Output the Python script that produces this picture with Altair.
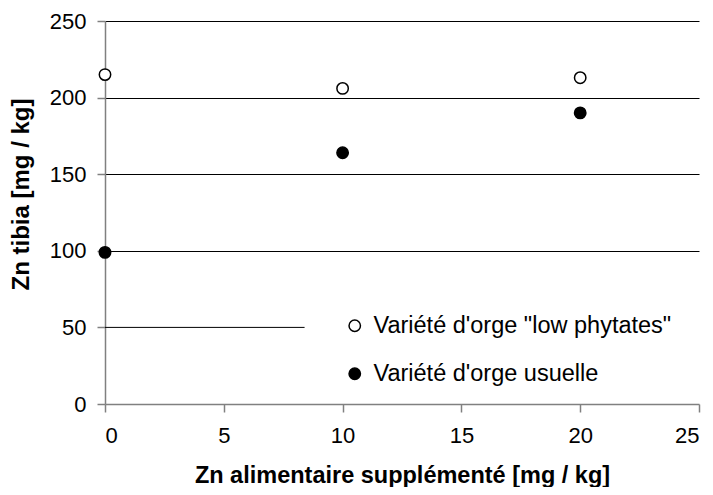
import altair as alt
import pandas as pd

# Data
zn_added = [0, 10, 20]
low_phytates = [215, 206, 213]
usuelle = [99, 164, 190]
series_names = ['Variété d\'orge "low phytates"', "Variété d'orge usuelle"]

x_ticks = [0, 5, 10, 15, 20, 25]
y_ticks = [0, 50, 100, 150, 200, 250]

# short gridline at 50 that stops where the legend box starts
stub_y = [50]
stub_x_start = [0]
stub_x_end = [8.4]

rows = []
for x, v in zip(zn_added, low_phytates):
    rows.append({"x": x, "y": v, "serie": series_names[0]})
for x, v in zip(zn_added, usuelle):
    rows.append({"x": x, "y": v, "serie": series_names[1]})
df = pd.DataFrame(rows)
stub = pd.DataFrame({"y": stub_y, "x": stub_x_start, "x2": stub_x_end})

FONT = "Liberation Sans"

x_scale = alt.Scale(domain=[0, 25], nice=False, zero=False)
y_scale = alt.Scale(domain=[0, 250], nice=False)

x_axis = alt.Axis(
    values=x_ticks, grid=False, title="Zn alimentaire supplémenté [mg / kg]",
    domainColor="#808080", domainWidth=1.5, tickColor="#808080", tickWidth=1.5,
    tickSize=8, labelFontSize=22, labelPadding=13, labelColor="black",
    titleFontSize=23.5, titleFontWeight="bold", titleY=78,
    titleBaseline="alphabetic", labelFont=FONT, titleFont=FONT,
)
y_axis = alt.Axis(
    values=y_ticks, grid=True, gridColor="#000000", gridWidth=1,
    gridOpacity=alt.condition("datum.value <= 50", alt.value(0), alt.value(1)),
    title="Zn tibia [mg / kg]",
    domainColor="#808080", domainWidth=1.5, tickColor="#808080", tickWidth=1.5,
    tickSize=8, labelFontSize=22, labelPadding=11, labelColor="black",
    titleFontSize=24, titleFontWeight="bold", titleX=-72, titleY=173,
    labelFont=FONT, titleFont=FONT,
)

rule = alt.Chart(stub).mark_rule(color="#000000", strokeWidth=1).encode(
    x=alt.X("x:Q", scale=x_scale, axis=x_axis),
    x2="x2:Q",
    y=alt.Y("y:Q", scale=y_scale, axis=y_axis),
)

points = alt.Chart(df).mark_point(
    shape="circle", filled=True, size=130, stroke="black", strokeWidth=1.5, opacity=1
).encode(
    x=alt.X("x:Q", scale=x_scale, axis=x_axis),
    y=alt.Y("y:Q", scale=y_scale, axis=y_axis),
    fill=alt.Fill(
        "serie:N",
        scale=alt.Scale(domain=series_names, range=["white", "black"]),
        legend=alt.Legend(
            title=None, orient="none", legendX=238, legendY=293,
            symbolType="circle", symbolSize=130, symbolStrokeColor="black",
            symbolStrokeWidth=1.5, labelFontSize=23.5, labelFont=FONT,
            labelColor="black", labelOffset=7, rowPadding=23, padding=0,
            labelLimit=0,
        ),
    ),
)

chart = alt.layer(rule, points).properties(
    width=594, height=383,
    autosize=alt.AutoSizeParams(type="none"),
    padding={"left": 97, "top": 13, "right": 6, "bottom": 83},
    background="white",
).configure_view(strokeWidth=0)

chart.save("out.html", embed_options={"renderer": "svg", "actions": False})
